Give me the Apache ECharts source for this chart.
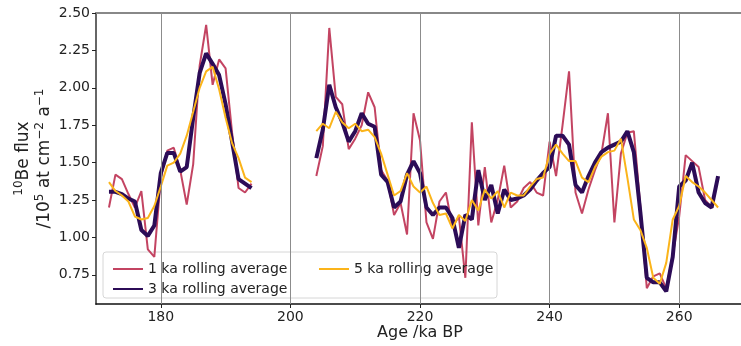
<!DOCTYPE html>
<html>
<head>
<meta charset="utf-8">
<script src="https://cdn.jsdelivr.net/npm/echarts@6/dist/echarts.min.js"></script>
<style>
html, body { margin: 0; padding: 0; background: #fff; }
#chart { width: 741px; height: 346px; }
</style>
</head>
<body>
<div id="chart"></div>
<script>
// ages of the two sampled intervals (ka BP)
var ageA = [172,173,174,175,176,177,178,179,180,181,182,183,184,185,186,187,188,189,190,191,192,193,194];
var ageB = [204,205,206,207,208,209,210,211,212,213,214,215,216,217,218,219,220,221,222,223,224,225,226,227,228,229,230,231,232,233,234,235,
	236,237,238,239,240,241,242,243,244,245,246,247,248,249,250,251,252,253,254,255,256,257,258,259,260,261,262,263,264,265,266];

// 1 ka rolling average
var oneKaA = [1.20,1.42,1.39,1.29,1.20,1.31,0.92,0.87,1.40,1.58,1.60,1.45,1.22,1.49,2.15,2.42,2.02,2.19,2.13,1.70,1.33,1.30,1.36];
var oneKaB = [1.41,1.61,2.40,1.94,1.89,1.59,1.66,1.75,1.97,1.87,1.45,1.38,1.15,1.23,1.02,1.83,1.65,1.10,0.99,1.24,1.30,1.07,1.14,0.73,1.77,1.08,1.47,1.10,1.25,1.48,1.20,1.24,
	1.33,1.37,1.30,1.28,1.64,1.41,1.75,2.11,1.30,1.16,1.32,1.45,1.56,1.83,1.10,1.56,1.70,1.71,1.21,0.66,0.74,0.76,0.66,0.88,1.14,1.55,1.51,1.47,1.25,1.20];

// 3 ka rolling average
var threeKaA = [1.305,1.305,1.29,1.26,1.24,1.05,1.01,1.08,1.43,1.565,1.565,1.44,1.47,1.80,2.10,2.23,2.16,2.085,1.89,1.64,1.39,1.36,1.33];
var threeKaB = [1.53,1.72,2.02,1.87,1.77,1.64,1.71,1.83,1.76,1.74,1.42,1.37,1.20,1.24,1.42,1.51,1.43,1.20,1.15,1.20,1.20,1.13,0.93,1.15,1.12,1.45,1.25,1.35,1.16,1.32,1.25,1.26,
	1.28,1.32,1.38,1.43,1.47,1.68,1.68,1.62,1.35,1.30,1.41,1.50,1.57,1.60,1.62,1.64,1.71,1.57,1.17,0.73,0.70,0.70,0.64,0.87,1.34,1.38,1.50,1.30,1.23,1.20,1.41];

// 5 ka rolling average
var fiveKaA = [1.37,1.31,1.28,1.24,1.14,1.12,1.13,1.21,1.34,1.48,1.50,1.56,1.68,1.84,2.00,2.11,2.14,1.99,1.80,1.63,1.53,1.40,1.37];
var fiveKaB = [1.71,1.76,1.73,1.84,1.77,1.73,1.76,1.71,1.72,1.67,1.56,1.42,1.28,1.31,1.43,1.34,1.30,1.34,1.23,1.15,1.16,1.06,1.15,1.11,1.25,1.18,1.32,1.26,1.31,1.20,1.30,1.28,
	1.28,1.34,1.39,1.40,1.56,1.62,1.56,1.51,1.51,1.40,1.37,1.47,1.54,1.57,1.58,1.66,1.40,1.12,1.05,0.93,0.73,0.69,0.83,1.12,1.21,1.41,1.37,1.34,1.30,1.25,1.20];

var xTicks = [180, 200, 220, 240, 260];
var yTicks = [0.75, 1.00, 1.25, 1.50, 1.75, 2.00, 2.25, 2.50];

// join the two intervals with a break in between
function joinData(xa, ya, xb, yb) {
	var out = [];
	for (var i = 0; i < ya.length; i++) out.push([xa[i], ya[i]]);
	out.push([199, '-']);
	for (var j = 0; j < yb.length; j++) out.push([xb[j], yb[j]]);
	return out;
}

var chart = echarts.init(document.getElementById('chart'));

var option = {
	animation: false,
	textStyle: { fontFamily: 'DejaVu Sans', color: '#222' },
	grid: { left: 96, top: 13, width: 648, height: 291, outerBoundsMode: 'none' },
	xAxis: [{
		type: 'value',
		min: 170,
		max: 270,
		name: 'Age /ka BP',
		nameLocation: 'middle',
		nameGap: 21,
		nameMoveOverlap: false,
		nameTextStyle: { fontSize: 16, color: '#222' },
		axisLine: { lineStyle: { color: '#111', width: 1.5 } },
		axisTick: { customValues: xTicks, length: 4, lineStyle: { color: '#222' } },
		axisLabel: { customValues: xTicks, fontSize: 14, color: '#222', margin: 6 },
		splitLine: { show: false }
	}, {
		type: 'value',
		position: 'top',
		min: 170,
		max: 270,
		axisLine: { show: true, lineStyle: { color: '#888', width: 2 } },
		axisTick: { show: false },
		axisLabel: { show: false },
		splitLine: { show: false }
	}],
	yAxis: {
		type: 'value',
		min: 0.555,
		max: 2.5,
		name: '{sup|10}{t|Be flux}\n{t|/10}{sup|5}{t| at cm}{sup|\u22122}{t| a}{sup|\u22121}',
		nameLocation: 'middle',
		nameRotate: 90,
		nameGap: 41,
		nameMoveOverlap: false,
		nameTextStyle: {
			rich: {
				t: { fontSize: 17, lineHeight: 21, color: '#222', fontFamily: 'DejaVu Sans' },
				sup: { fontSize: 12, lineHeight: 12, verticalAlign: 'top', color: '#222', fontFamily: 'DejaVu Sans' }
			}
		},
		axisLine: { show: true, lineStyle: { color: '#666', width: 2 } },
		axisTick: { customValues: yTicks, length: 4, lineStyle: { color: '#222' } },
		axisLabel: {
			customValues: yTicks,
			fontSize: 14,
			color: '#222',
			margin: 6,
			formatter: function (v) { return v.toFixed(2); }
		},
		splitLine: { show: false }
	},
	graphic: {
		elements: [{
			type: 'rect',
			z: 3,
			shape: { x: 103, y: 252, width: 394, height: 46, r: 3 },
			style: { fill: 'rgba(255,255,255,0.8)', stroke: '#d6d6d6', lineWidth: 1 }
		}]
	},
	legend: [{
		z: 4,
		orient: 'vertical',
		left: 107,
		top: 256,
		itemWidth: 30,
		itemHeight: 16,
		itemGap: 4,
		itemStyle: { opacity: 0 },
		data: ['1 ka rolling average', '3 ka rolling average'],
		textStyle: { fontSize: 14, lineHeight: 16, color: '#222' }
	}, {
		z: 4,
		orient: 'vertical',
		left: 313,
		top: 256,
		itemWidth: 30,
		itemHeight: 16,
		itemStyle: { opacity: 0 },
		data: ['5 ka rolling average'],
		textStyle: { fontSize: 14, lineHeight: 16, color: '#222' }
	}],
	series: [{
		type: 'line',
		data: [],
		silent: true,
		markLine: {
			silent: true,
			symbol: 'none',
			label: { show: false },
			lineStyle: { color: '#8c8c8c', width: 1, type: 'solid' },
			data: xTicks.map(function (v) { return { xAxis: v }; })
		}
	}, {
		name: '1 ka rolling average',
		type: 'line',
		symbol: 'none',
		data: joinData(ageA, oneKaA, ageB, oneKaB),
		lineStyle: { color: '#c03a5a', width: 2, opacity: 0.95 },
		itemStyle: { color: '#c03a5a' }
	}, {
		name: '3 ka rolling average',
		type: 'line',
		symbol: 'none',
		data: joinData(ageA, threeKaA, ageB, threeKaB),
		lineStyle: { color: '#2c0c57', width: 4 },
		itemStyle: { color: '#2c0c57' }
	}, {
		name: '5 ka rolling average',
		type: 'line',
		symbol: 'none',
		data: joinData(ageA, fiveKaA, ageB, fiveKaB),
		lineStyle: { color: '#fbb41a', width: 2 },
		itemStyle: { color: '#fbb41a' }
	}]
};

chart.setOption(option);
</script>
</body>
</html>
